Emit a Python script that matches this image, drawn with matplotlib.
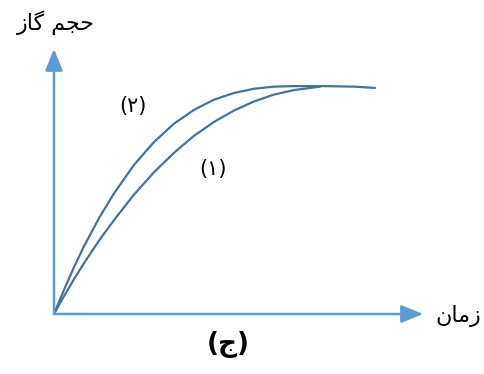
import matplotlib
matplotlib.use("Agg")
import matplotlib.pyplot as plt

# curve (2): faster reaction
t2 = [0, 0.27, 0.54, 0.81, 1.22, 1.63, 2.17, 2.71, 3.25, 3.79, 4.34, 4.88, 5.42, 5.96, 6.50, 7.32, 8.13, 8.70]
v2 = [0, 0.91, 1.76, 2.55, 3.62, 4.56, 5.63, 6.49, 7.18, 7.70, 8.09, 8.34, 8.50, 8.58, 8.60, 8.60, 8.58, 8.53]

# curve (1): slower reaction, meets (2) at the plateau
t1 = [0, 0.27, 0.54, 0.81, 1.22, 1.63, 2.17, 2.71, 3.25, 3.79, 4.34, 4.88, 5.42, 5.96, 6.50, 7.21]
v1 = [0, 0.67, 1.31, 1.91, 2.77, 3.55, 4.51, 5.35, 6.08, 6.72, 7.25, 7.68, 8.02, 8.28, 8.45, 8.58]

# persian labels written in shaped presentation forms, visual order
ylabel = "\ufeaf\ufe8e\ufb94 \ufee2\ufea0\ufea3"   # حجم گاز
xlabel = "\ufee5\ufe8e\ufee3\ufeaf"                # زمان
lab1 = "(\u06f1)"
lab2 = "(\u06f2)"
caption = "(\ufe9d)"                               # (ج)

axis_col = "#5b9bd5"
line_col = "#45729c"

plt.rcParams['font.family'] = ['DejaVu Sans']

W, H = 485, 374
fig = plt.figure(figsize=(W / 100, H / 100), dpi=100)
ax = fig.add_axes([54 / W, (H - 314) / H, (423 - 54) / W, (314 - 49) / H])
ax.set_xlim(0, 10)
ax.set_ylim(0, 10)
ax.axis('off')

ax.plot(t2, v2, color=line_col, lw=1.6, solid_capstyle='round', solid_joinstyle='round')
ax.plot(t1, v1, color=line_col, lw=1.6, solid_capstyle='round', solid_joinstyle='round')

# axes with arrow heads
arr = dict(arrowstyle='-|>,head_length=1.1,head_width=0.45', color=axis_col, lw=1.8,
           shrinkA=0, shrinkB=0, mutation_scale=12)
ax.annotate('', xy=(0, 1), xytext=(0, 0), xycoords='axes fraction', arrowprops=arr, annotation_clip=False)
ax.annotate('', xy=(1, 0), xytext=(0, 0), xycoords='axes fraction', arrowprops=arr, annotation_clip=False)

fig.text(56 / W, 1 - 23 / H, ylabel, fontsize=16, ha='center', va='center')
fig.text(458 / W, 1 - 316 / H, xlabel, fontsize=16, ha='center', va='center')
fig.text(133 / W, 1 - 106 / H, lab2, fontsize=15, ha='center', va='center')
fig.text(213 / W, 1 - 169 / H, lab1, fontsize=15, ha='center', va='center')
fig.text(228 / W, 1 - 344 / H, caption, fontsize=19, fontweight='bold', ha='center', va='center')

fig.savefig("out.png", dpi=100)
